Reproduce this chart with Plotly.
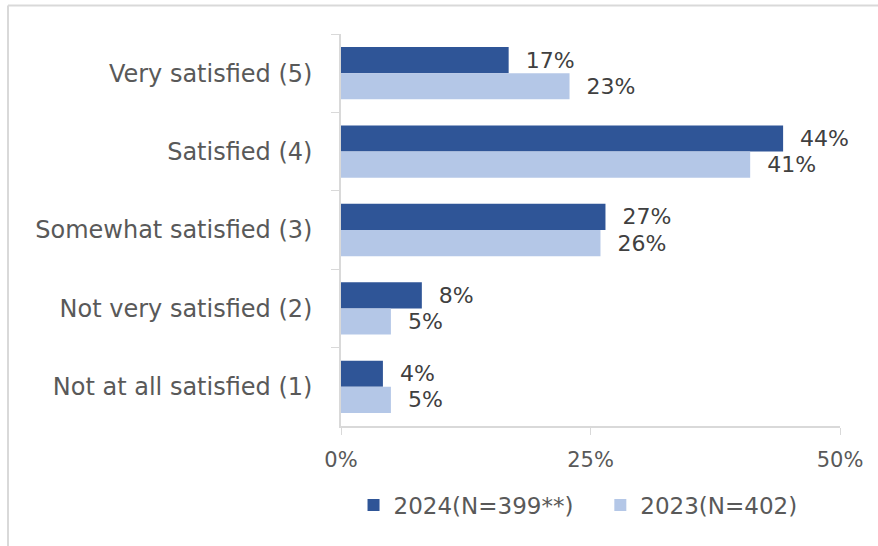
import plotly.graph_objects as go

categories = ["Very satisfied (5)", "Satisfied (4)", "Somewhat satisfied (3)",
              "Not very satisfied (2)", "Not at all satisfied (1)"]
values_2024 = [16.8, 44.3, 26.5, 8.1, 4.2]
values_2023 = [22.9, 41.0, 26.0, 5.0, 5.0]
labels_2024 = ["17%", "44%", "27%", "8%", "4%"]
labels_2023 = ["23%", "41%", "26%", "5%", "5%"]
series_names = ["2024(N=399**)", "2023(N=402)"]
x_ticks = [0, 25, 50]
x_tick_labels = ["0%", "25%", "50%"]

FONT = "DejaVu Sans"
AXIS_COLOR = "#595959"
LABEL_COLOR = "#404040"
pad = "\u00a0\u00a0"
legend_pad = ["\u00a0\u00a0\u00a0", ""]

fig = go.Figure()
for i, (vals, labs, name, color) in enumerate([
        (values_2024, labels_2024, series_names[0], "#2F5597"),
        (values_2023, labels_2023, series_names[1], "#B4C7E7")]):
    fig.add_trace(go.Bar(
        y=categories, x=vals, orientation="h", name=name + legend_pad[i],
        marker=dict(color=color, line=dict(width=0)),
        text=[pad + t for t in labs], textposition="outside",
        textfont=dict(family=FONT, size=22, color=LABEL_COLOR),
        constraintext="none", cliponaxis=False,
    ))

fig.update_layout(
    width=878, height=546,
    margin=dict(l=341, r=38, t=34, b=120, autoexpand=False),
    paper_bgcolor="white", plot_bgcolor="white",
    barmode="group", bargap=0.333, bargroupgap=0,
    font=dict(family=FONT, size=22, color=AXIS_COLOR),
    showlegend=True,
    legend=dict(orientation="h", x=0.475, xanchor="center",
                y=-0.147, yanchor="top",
                font=dict(family=FONT, size=23, color=AXIS_COLOR),
                traceorder="normal"),
    xaxis=dict(range=[0, 50], tickvals=x_ticks, ticktext=x_tick_labels,
               showgrid=False, zeroline=False, showline=True, linecolor="#D9D9D9",
               linewidth=1.5, ticks="outside", ticklen=7, tickcolor="#D9D9D9",
               ticklabelstandoff=7, tickfont=dict(family=FONT, size=21, color=AXIS_COLOR)),
    yaxis=dict(autorange="reversed", showgrid=False, zeroline=False, showline=True,
               linecolor="#D9D9D9", linewidth=1.5, ticks="outside", ticklen=8,
               tickcolor="#D9D9D9", tickson="boundaries", ticklabelstandoff=22,
               tickfont=dict(family=FONT, size=24, color=AXIS_COLOR)),
)

top_y = 1 + 28.5 / 392
left_x = -333 / 499
fig.add_shape(type="line", xref="paper", yref="paper", x0=left_x, x1=537 / 499,
              y0=top_y, y1=top_y, line=dict(color="#D9D9D9", width=2))
fig.add_shape(type="line", xref="paper", yref="paper", x0=left_x, x1=left_x,
              y0=-120 / 392, y1=top_y, line=dict(color="#D9D9D9", width=2))

fig.write_html("out.html", config={"displayModeBar": False},
               post_script="document.body.style.margin='0';")
